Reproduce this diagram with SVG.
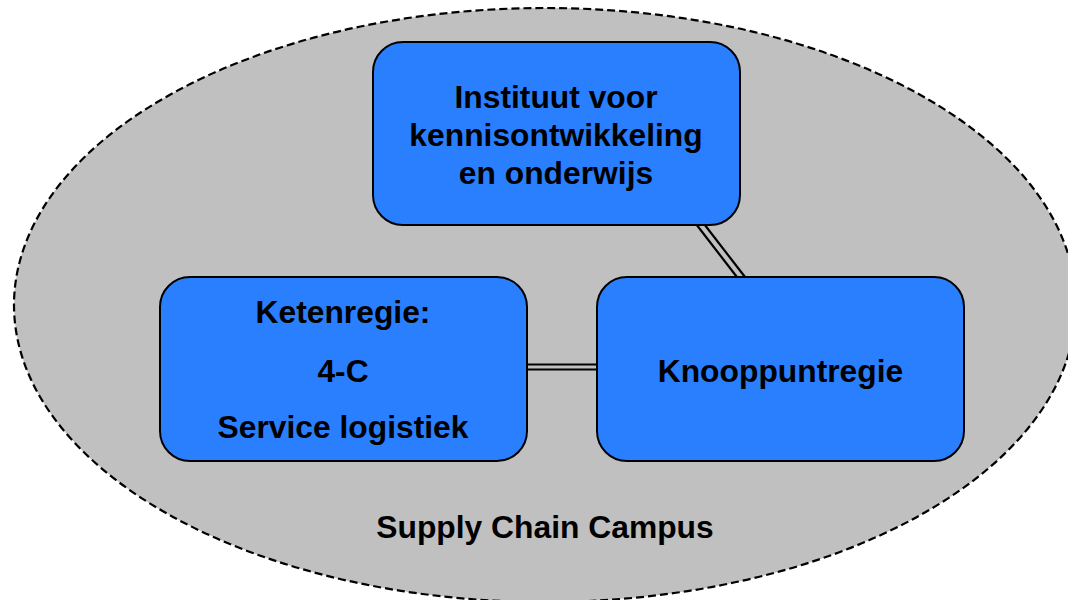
<svg xmlns="http://www.w3.org/2000/svg" width="1068" height="600" viewBox="0 0 1068 600">
<style>
.box{fill:#2a7fff;stroke:#000;stroke-width:2}
.t{font-family:"Liberation Sans",Arial,sans-serif;font-weight:bold;font-size:31.8px;fill:#000;text-anchor:middle}
.c{stroke:#000;stroke-width:2.2;fill:none}
</style>
<rect width="1068" height="600" fill="#fff"/>
<g id="campus">
<ellipse cx="545" cy="305" rx="531" ry="297" fill="#c0c0c0" stroke="#000" stroke-width="2.2" stroke-dasharray="8,4"/>
<text class="t" x="545" y="538">Supply Chain Campus</text>
</g>
<g id="connectors">
<line class="c" x1="696" y1="224" x2="740" y2="281"/>
<line class="c" x1="701" y1="220" x2="745" y2="277"/>
<line class="c" x1="518" y1="364.5" x2="598" y2="364.5"/>
<line class="c" x1="518" y1="369.5" x2="598" y2="369.5"/>
</g>
<g id="instituut">
<rect class="box" x="373" y="42" width="367" height="183" rx="30"/>
<text class="t" x="556" y="108">Instituut voor</text>
<text class="t" x="556" y="146">kennisontwikkeling</text>
<text class="t" x="556" y="184">en onderwijs</text>
</g>
<g id="ketenregie">
<rect class="box" x="160" y="277" width="367" height="184" rx="30"/>
<text class="t" x="343" y="323">Ketenregie:</text>
<text class="t" x="343" y="382">4-C</text>
<text class="t" x="343" y="438">Service logistiek</text>
</g>
<g id="knooppuntregie">
<rect class="box" x="597" y="277" width="367" height="184" rx="30"/>
<text class="t" x="780.5" y="382">Knooppuntregie</text>
</g>
</svg>
